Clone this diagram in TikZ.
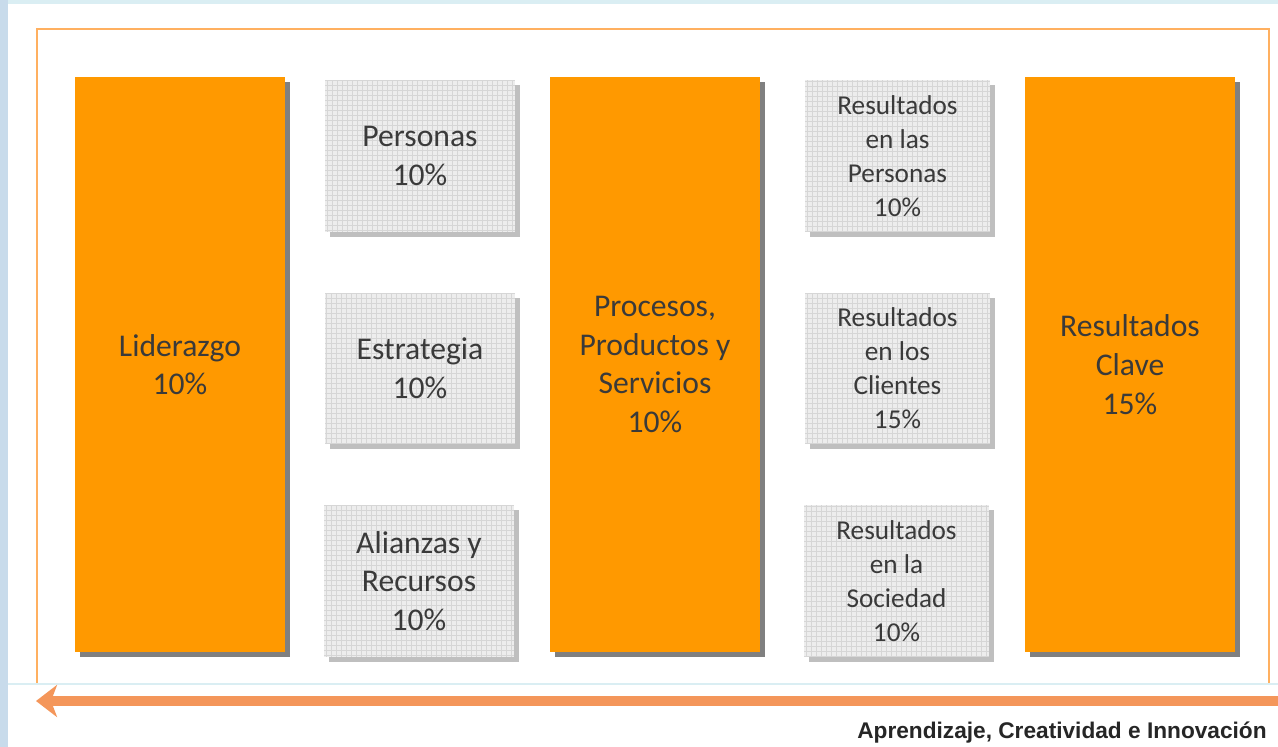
\documentclass[tikz,border=0pt]{standalone}
\usepackage{fontspec}
\setmainfont{Carlito}
\newfontfamily\arialfont{Liberation Sans}
\usetikzlibrary{shadows,arrows.meta}
\definecolor{boxorange}{HTML}{FF9900}
\definecolor{frameorange}{HTML}{FFB060}
\definecolor{arroworange}{HTML}{F4965A}
\definecolor{sideblue}{HTML}{C8DBEB}
\definecolor{rulecyan}{HTML}{DAEEF3}
\definecolor{gridfill}{HTML}{EDEDED}
\definecolor{gridline}{HTML}{D6D6D6}
\definecolor{labeltext}{HTML}{3A3A3A}
\tikzset{
  orangebox/.style={fill=boxorange, text=labeltext, align=center,
    minimum width=4.2cm, minimum height=11.5cm, inner sep=0pt,
    font=\fontsize{18}{22}\selectfont,
    drop shadow={shadow xshift=0.1cm, shadow yshift=-0.1cm, fill=gray, opacity=1}},
  gridbox/.style={fill=gridfill, text=labeltext, align=center,
    minimum width=3.8cm, minimum height=3.04cm, inner sep=0pt,
    font=\fontsize{18}{22}\selectfont,
    drop shadow={shadow xshift=0.1cm, shadow yshift=-0.1cm, fill=gray!50, opacity=1},
    path picture={\draw[gridline, line width=0.3pt, step=0.1cm]
      (path picture bounding box.south west) grid (path picture bounding box.north east);}},
  resultbox/.style={gridbox, minimum width=3.7cm, font=\fontsize{15.5}{19.3}\selectfont}
}
\begin{document}
\begin{tikzpicture}[x=0.02cm,y=-0.02cm]
\useasboundingbox (0,0) rectangle (1278,747);
\fill[white] (0,0) rectangle (1278,747);
\fill[sideblue] (0,0) rectangle (8,747);
\fill[rulecyan] (8,0) rectangle (1278,4);
\draw[frameorange, line width=1.5pt] (37,684) -- (37,29) -- (1269,29) -- (1269,684);
\draw[rulecyan, line width=1.2pt] (8,684) -- (1278,684);
\node[orangebox] (lider) at (180,364.5) {Liderazgo\\10\%};
\node[gridbox] (personas) at (420,156) {Personas\\10\%};
\node[gridbox] (estrategia) at (420,368.5) {Estrategia\\10\%};
\node[gridbox] (alianzas) at (419,581) {Alianzas y\\Recursos\\10\%};
\node[orangebox] (procesos) at (655,364.5) {Procesos,\\Productos y\\Servicios\\10\%};
\node[resultbox] (respersonas) at (897.5,156) {Resultados\\en las\\Personas\\10\%};
\node[resultbox] (resclientes) at (897.5,368.5) {Resultados\\en los\\Clientes\\15\%};
\node[resultbox] (ressociedad) at (896.5,581) {Resultados\\en la\\Sociedad\\10\%};
\node[orangebox] (clave) at (1130,364.5) {Resultados\\Clave\\15\%};
\coordinate (flechaini) at (1278,701);
\coordinate (flechafin) at (36,701);
\draw[arroworange, line width=0.2cm, -{Stealth[length=0.42cm, width=0.64cm, inset=0.12cm]}] (flechaini) -- (flechafin);
\node[anchor=base east, inner sep=0pt, font=\arialfont\bfseries\fontsize{12.9}{15}\selectfont, text=black!85] (aprendizaje) at (1267,738) {Aprendizaje, Creatividad e Innovación};
\end{tikzpicture}
\end{document}
